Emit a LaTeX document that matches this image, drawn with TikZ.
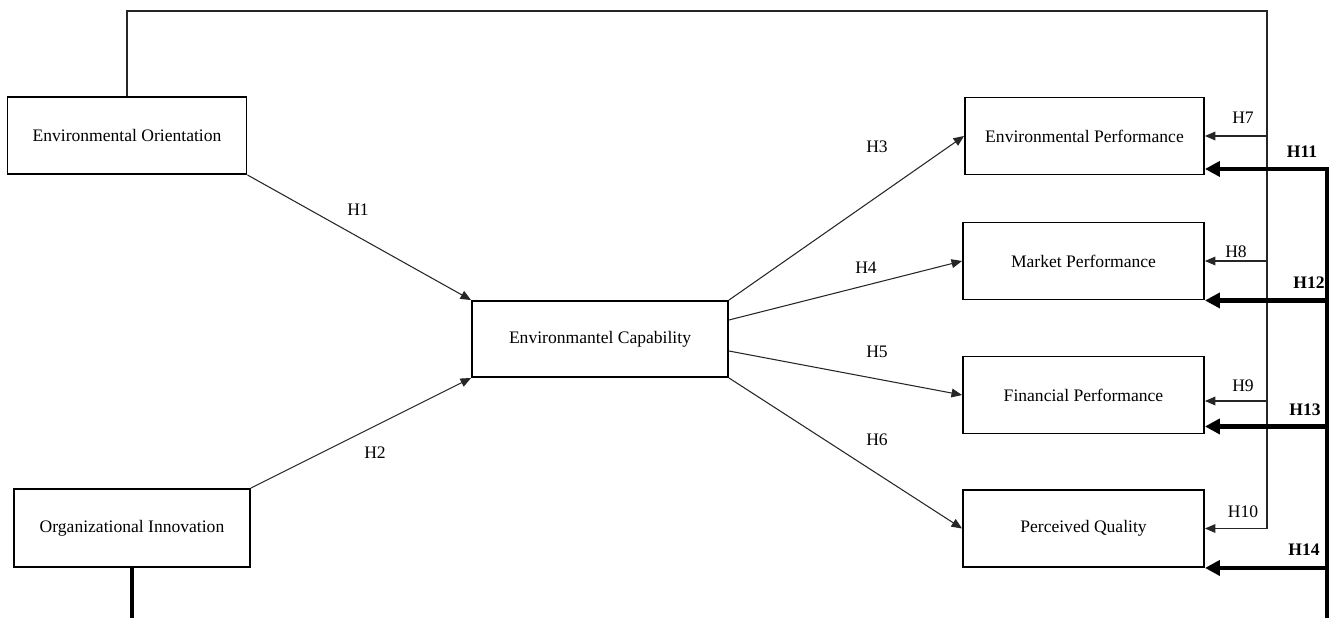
\documentclass[tikz,border=0pt]{standalone}
\usepackage{fontspec}
\setmainfont{Liberation Serif}
\usetikzlibrary{arrows.meta}

\begin{document}
\begin{tikzpicture}[
    x=0.02cm, y=-0.02cm,
    construct/.style={draw, rectangle, line width=1.1pt, minimum width=4.78cm,
                      minimum height=1.54cm, inner sep=0pt, align=center,
                      font=\fontsize{10}{12}\selectfont},
    link/.style={-{Triangle[length=6pt,width=5pt]}, line width=0.6pt, black!85},
    boldlink/.style={-{Triangle[length=8.5pt,width=8.5pt]}, line width=2.4pt},
    hyp/.style={inner sep=0pt, font=\fontsize{10}{12}\selectfont},
    boldhyp/.style={inner sep=0pt, font=\fontsize{10}{12}\selectfont\bfseries}
]

\path[use as bounding box, fill=white] (0,0) rectangle (1329,618);
\clip (0,0) rectangle (1329,618);

% constructs
\node[construct] (EO) at (127,135.5) {Environmental Orientation};
\node[construct, minimum width=4.72cm, minimum height=1.56cm] (OI) at (132,528) {Organizational Innovation};
\node[construct, minimum width=5.12cm, minimum height=1.52cm] (EC) at (600,339) {Environmantel Capability};
\node[construct] (EP) at (1084.5,136) {Environmental Performance};
\node[construct, minimum width=4.82cm] (MP) at (1083.5,261) {Market Performance};
\node[construct, minimum width=4.82cm] (FP) at (1083.5,395) {Financial Performance};
\node[construct, minimum width=4.82cm] (PQ) at (1083.5,528.5) {Perceived Quality};

% antecedents -> capability -> outcomes
\draw[link] (EO.south east) -- (EC.north west);
\draw[link] (OI.north east) -- (EC.south west);
\draw[link] (EC.north east) -- (EP.west);
\draw[link] ([yshift=0.38cm]EC.east) -- (MP.west);
\draw[link] ([yshift=-0.24cm]EC.east) -- (FP.west);
\draw[link] (EC.south east) -- (PQ.west);

\node[hyp] (lH1) at (358,210) {H1};
\node[hyp] (lH2) at (375,453) {H2};
\node[hyp] (lH3) at (877,147) {H3};
\node[hyp] (lH4) at (866,268) {H4};
\node[hyp] (lH5) at (877,352) {H5};
\node[hyp] (lH6) at (877,440) {H6};

% direct paths from environmental orientation (thin, over the top)
\coordinate (top) at (1267,11);
\coordinate (t9) at ([yshift=-0.12cm]FP.east);
\draw[link] (EO.north) |- (top) |- (PQ.east);
\draw[link] (top |- EP.east) -- (EP.east);
\draw[link] (top |- MP.east) -- (MP.east);
\draw[link] (top |- t9) -- (t9);

\node[hyp] (lH7) at (1243,118) {H7};
\node[hyp] (lH8) at (1236,252) {H8};
\node[hyp] (lH9) at (1243,386) {H9};
\node[hyp] (lH10) at (1243,512) {H10};

% direct paths from organizational innovation (bold, round the bottom)
\coordinate (rail) at (1327,680);
\coordinate (b11) at ([yshift=0.13cm]EP.south east);
\coordinate (b13) at ([yshift=0.16cm]FP.south east);
\draw[boldlink] (OI.south) |- (rail) |- (b11);
\draw[boldlink] (rail |- MP.south east) -- (MP.south east);
\draw[boldlink] (rail |- b13) -- (b13);
\draw[boldlink] (rail |- PQ.south east) -- (PQ.south east);

\node[boldhyp] (lH11) at (1302,152) {H11};
\node[boldhyp] (lH12) at (1309,283) {H12};
\node[boldhyp] (lH13) at (1305,410) {H13};
\node[boldhyp] (lH14) at (1304,550) {H14};

\end{tikzpicture}
\end{document}
